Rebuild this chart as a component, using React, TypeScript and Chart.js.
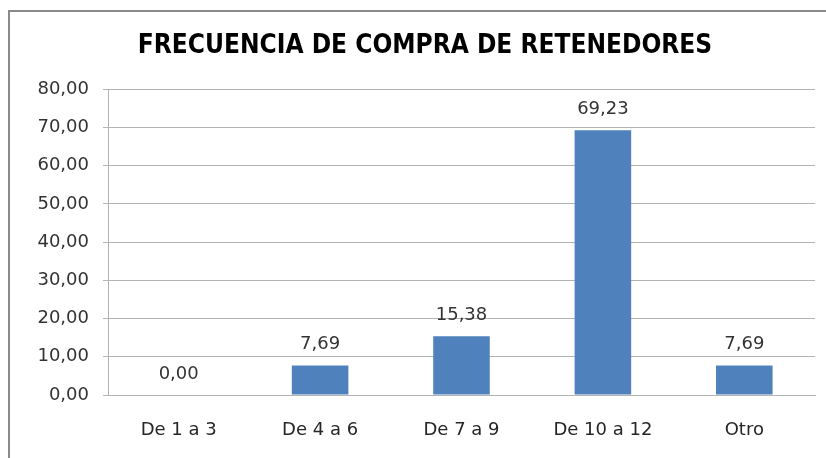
import React, { useEffect, useRef } from "react";
import { Chart, registerables } from "chart.js";

Chart.register(...registerables);

const categories = ["De 1 a 3", "De 4 a 6", "De 7 a 9", "De 10 a 12", "Otro"];
const values = [0.0, 7.69, 15.38, 69.23, 7.69];
const chartTitle = "FRECUENCIA DE COMPRA DE RETENEDORES";
const yMin = 0;
const yMax = 80;
const yStep = 10;

const fmt = (v: number) => v.toFixed(2).replace(".", ",");

const TEXT_FONT = "'DejaVu Sans', sans-serif";

const valueLabels = {
  id: "valueLabels",
  afterDatasetsDraw(chart: any) {
    const ctx = chart.ctx;
    const meta = chart.getDatasetMeta(0);
    ctx.save();
    ctx.font = `18px ${TEXT_FONT}`;
    ctx.fillStyle = "#333333";
    ctx.textAlign = "center";
    ctx.textBaseline = "bottom";
    meta.data.forEach((bar: any, i: number) => {
      ctx.fillText(fmt(values[i]), bar.x, bar.y - 12);
    });
    ctx.restore();
  },
};

export default function App() {
  const ref = useRef<HTMLCanvasElement | null>(null);

  useEffect(() => {
    if (!ref.current) return;
    const chart = new Chart(ref.current, {
      type: "bar",
      data: {
        labels: categories,
        datasets: [
          {
            data: values,
            backgroundColor: "#4F81BD",
            borderWidth: 0,
            inflateAmount: 0,
            categoryPercentage: 1,
            barPercentage: 0.4,
          },
        ],
      },
      options: {
        responsive: false,
        animation: false,
        layout: { padding: { left: 35, right: 11, top: 0, bottom: 0 } },
        plugins: {
          legend: { display: false },
          tooltip: { enabled: false },
          title: {
            display: true,
            text: chartTitle,
            color: "#000000",
            font: { family: "'DejaVu Sans Condensed', 'DejaVu Sans', sans-serif", size: 26, weight: "bold" },
            padding: { top: 31, bottom: 27 },
          },
        },
        scales: {
          x: {
            grid: { display: false, drawTicks: false },
            border: { display: true, color: "#b3b3b3", width: 1 },
            ticks: { color: "#262626", font: { family: TEXT_FONT, size: 18 }, padding: 25 },
            afterFit: (scale: any) => {
              scale.height = 63;
            },
          },
          y: {
            min: yMin,
            max: yMax,
            ticks: {
              stepSize: yStep,
              color: "#333333",
              font: { family: TEXT_FONT, size: 18 },
              padding: 14,
              callback: (v: any) => fmt(Number(v)),
            },
            grid: { color: "#b3b3b3", tickLength: 5, lineWidth: 1 },
            border: { display: true, color: "#b3b3b3", width: 1 },
            afterFit: (scale: any) => {
              scale.width = 73;
            },
          },
        },
      },
      plugins: [valueLabels],
    });
    return () => chart.destroy();
  }, []);

  return (
    <div style={{ position: "absolute", left: 0, top: 0, width: 826, height: 458, overflow: "hidden", background: "#fff" }}>
      <div
        style={{
          position: "absolute",
          left: 8,
          top: 10,
          width: 900,
          height: 500,
          border: "2px solid #8a8a8a",
          boxSizing: "border-box",
        }}
      />
      <canvas ref={ref} width={826} height={458} style={{ position: "absolute", left: 0, top: 0 }} />
    </div>
  );
}
